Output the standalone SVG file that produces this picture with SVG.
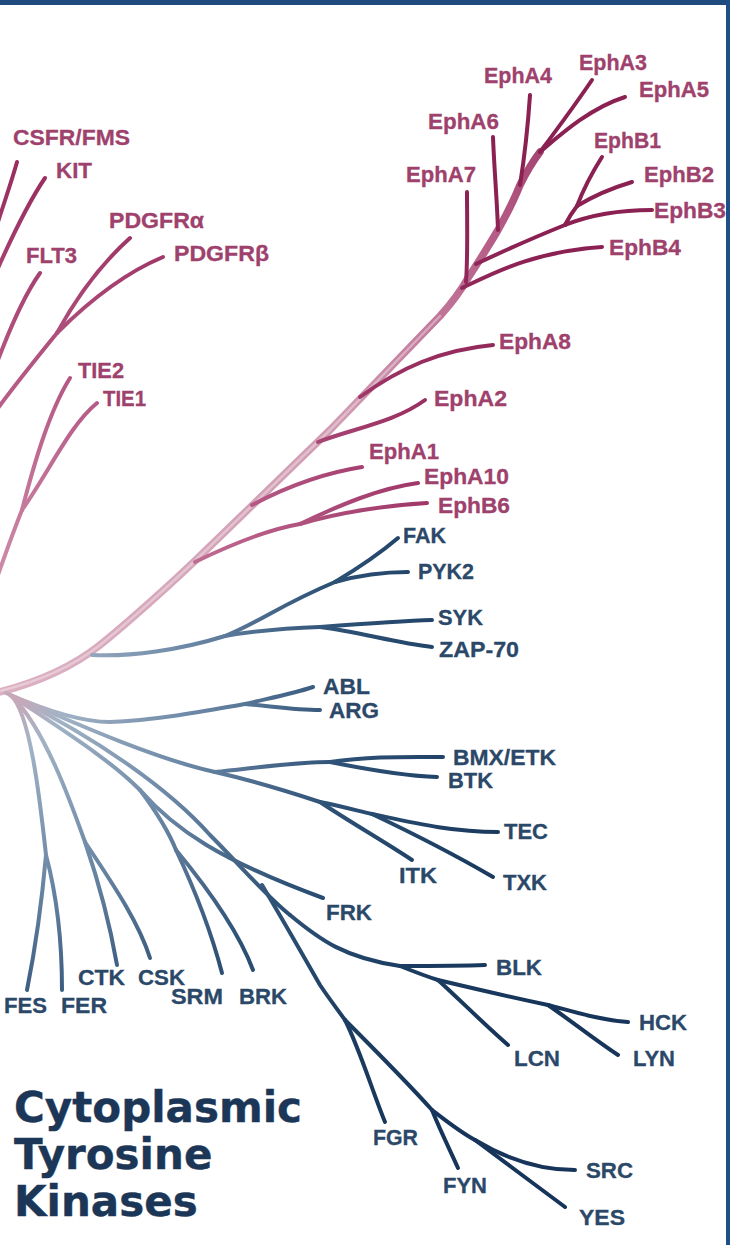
<svg xmlns="http://www.w3.org/2000/svg" width="730" height="1245" viewBox="0 0 730 1245">
<defs>
<linearGradient id="gTrunk" gradientUnits="userSpaceOnUse" x1="0" y1="690" x2="600" y2="60">
<stop offset="0" stop-color="#dcb0c2"/><stop offset="0.5" stop-color="#d09bb2"/><stop offset="0.78" stop-color="#b45a85"/><stop offset="1" stop-color="#93295b"/>
</linearGradient>
<radialGradient id="gPink" gradientUnits="userSpaceOnUse" cx="0" cy="690" r="700">
<stop offset="0" stop-color="#dcaabe"/><stop offset="0.4" stop-color="#b9608a"/><stop offset="0.7" stop-color="#9c3264"/><stop offset="1" stop-color="#8a2152"/>
</radialGradient>
<radialGradient id="gBlue" gradientUnits="userSpaceOnUse" cx="15" cy="698" r="600">
<stop offset="0" stop-color="#c9a8b8"/><stop offset="0.08" stop-color="#a2b3c5"/><stop offset="0.3" stop-color="#6c88a6"/><stop offset="0.55" stop-color="#2e5176"/><stop offset="0.8" stop-color="#1b3c60"/><stop offset="1" stop-color="#17355a"/>
</radialGradient>
<style>
.pk{fill:none;stroke:url(#gPink);stroke-width:4;stroke-linecap:round;stroke-linejoin:round}
.bl{fill:none;stroke:url(#gBlue);stroke-width:4;stroke-linecap:round;stroke-linejoin:round}
.tr{fill:none;stroke:url(#gTrunk);stroke-width:7.5;stroke-linecap:round;stroke-linejoin:round}
.hl{fill:none;stroke:#ffffff;stroke-opacity:0.35;stroke-width:2.5;stroke-linecap:round;stroke-linejoin:round}
text{font-family:"Liberation Sans",Arial,sans-serif;font-weight:bold;font-size:22px}
.lp{fill:#9e416c;stroke:#9e416c;stroke-width:0.3}
.lb{fill:#2b4869;stroke:#2b4869;stroke-width:0.3}
.title{font-family:"DejaVu Sans",Verdana,sans-serif;font-size:42px;fill:#1b3656;stroke:#1b3656;stroke-width:0.4}
</style>
</defs>
<rect x="0" y="0" width="730" height="1245" fill="#ffffff"/>
<g id="connectors">
<path class="tr" d="M-4,693 C40,682 75,665 100,645 S170,585 200,556 L330,430 L440,316 Q458,296 468,278 Q485,252 498,230 Q512,205 520,185 Q530,165 540,152"/>
<path class="hl" d="M0,691 C40,681 75,665 100,645 S170,585 200,556 L330,430 L440,316"/>
<path class="pk" d="M540,152 C555,132 575,105 592,80"/>
<path class="pk" d="M540,152 C560,135 590,108 625,97"/>
<path class="pk" d="M520,185 C524,160 528,125 530,95"/>
<path class="pk" d="M498,230 C497,200 494,165 493,137"/>
<path class="pk" d="M466,282 C468,255 467,220 467,192"/>
<path class="pk" d="M462,288 C490,275 530,252 602,247"/>
<path class="pk" d="M476,264 C510,248 540,235 565,225"/>
<path class="pk" d="M565,225 C590,215 620,210 652,210"/>
<path class="pk" d="M565,225 Q570,215 577,206"/>
<path class="pk" d="M577,206 C595,195 612,188 632,182"/>
<path class="pk" d="M577,206 C585,185 595,168 602,157"/>
<path class="pk" d="M360,397 C400,368 440,350 493,345"/>
<path class="pk" d="M318,442 C355,428 395,422 425,400"/>
<path class="pk" d="M252,505 C290,485 330,472 362,467"/>
<path class="pk" d="M195,562 C230,545 265,530 300,524"/>
<path class="pk" d="M300,524 C340,505 380,488 418,483"/>
<path class="pk" d="M300,524 C340,512 390,505 427,503"/>
<path class="pk" d="M17,162 C12,180 5,200 -2,222"/>
<path class="pk" d="M45,178 C30,200 15,230 -2,268"/>
<path class="pk" d="M40,273 C28,290 15,315 -2,360"/>
<path class="pk" d="M130,238 C100,265 75,300 57,333"/>
<path class="pk" d="M163,257 C120,275 85,305 57,333"/>
<path class="pk" d="M57,333 C35,360 15,385 -2,408"/>
<path class="pk" d="M70,378 C50,410 35,460 22,510"/>
<path class="pk" d="M97,403 C70,425 50,470 22,510"/>
<path class="pk" d="M22,510 C12,535 5,555 -2,575"/>
<path class="bl" d="M92,655 C130,657 180,650 225,636"/>
<path class="bl" d="M225,636 C260,622 280,605 335,582"/>
<path class="bl" d="M335,582 C355,570 378,555 398,538"/>
<path class="bl" d="M335,582 C360,575 385,572 408,572"/>
<path class="bl" d="M225,636 C260,630 290,628 320,627"/>
<path class="bl" d="M320,627 C360,624 400,621 432,620"/>
<path class="bl" d="M320,627 C360,632 395,643 432,647"/>
<path class="bl" d="M6,693 C40,708 80,722 110,722 C160,720 210,710 245,704"/>
<path class="bl" d="M245,704 C270,698 292,694 313,687"/>
<path class="bl" d="M245,704 C270,706 295,710 320,710"/>
<path class="bl" d="M10,695 C30,710 40,800 46,855"/>
<path class="bl" d="M46,855 C42,900 35,950 27,990"/>
<path class="bl" d="M46,855 C58,900 62,950 62,990"/>
<path class="bl" d="M12,696 C45,730 70,800 85,842"/>
<path class="bl" d="M85,842 C98,880 110,925 117,965"/>
<path class="bl" d="M85,842 C110,880 138,920 150,958"/>
<path class="bl" d="M12,696 C70,735 110,760 140,790"/>
<path class="bl" d="M140,790 C155,810 168,830 176,850"/>
<path class="bl" d="M176,850 C195,890 212,935 222,973"/>
<path class="bl" d="M176,850 C205,885 238,930 253,970"/>
<path class="bl" d="M140,790 C175,830 220,860 323,898"/>
<path class="bl" d="M12,696 C100,740 170,790 210,835 C240,865 265,895 290,915"/>
<path class="bl" d="M290,915 C320,940 345,958 400,966"/>
<path class="bl" d="M400,966 C430,966 460,966 485,965"/>
<path class="bl" d="M400,966 C415,972 425,976 438,980"/>
<path class="bl" d="M438,980 C460,1000 485,1025 508,1045"/>
<path class="bl" d="M438,980 C480,990 515,998 548,1005"/>
<path class="bl" d="M548,1005 C575,1012 600,1020 628,1022"/>
<path class="bl" d="M548,1005 C570,1020 595,1040 618,1055"/>
<path class="bl" d="M262,885 C280,915 300,950 320,985 C330,1000 338,1010 345,1020"/>
<path class="bl" d="M345,1020 C360,1050 372,1090 385,1122"/>
<path class="bl" d="M345,1020 C375,1050 405,1080 432,1110"/>
<path class="bl" d="M432,1110 C440,1130 450,1150 458,1168"/>
<path class="bl" d="M432,1110 C445,1120 460,1132 475,1140"/>
<path class="bl" d="M475,1140 C505,1158 540,1170 575,1170"/>
<path class="bl" d="M475,1140 C505,1162 535,1185 565,1207"/>
<path class="bl" d="M10,695 C90,730 160,760 215,772"/>
<path class="bl" d="M215,772 C255,768 295,762 330,762"/>
<path class="bl" d="M330,762 C370,756 405,757 443,757"/>
<path class="bl" d="M330,762 C370,770 405,776 437,777"/>
<path class="bl" d="M215,772 C250,780 290,792 320,802"/>
<path class="bl" d="M320,802 C340,806 355,810 372,814"/>
<path class="bl" d="M372,814 C410,822 450,832 498,832"/>
<path class="bl" d="M372,814 C410,832 450,852 493,877"/>
<path class="bl" d="M320,802 C350,822 385,842 412,860"/>
</g>
<g id="n-CSFR"><text class="lp" x="13" y="145" textLength="117" lengthAdjust="spacingAndGlyphs">CSFR/FMS</text></g>
<g id="n-KIT"><text class="lp" x="56" y="178" textLength="36" lengthAdjust="spacingAndGlyphs">KIT</text></g>
<g id="n-PDGFRa"><text class="lp" x="109" y="228" textLength="95" lengthAdjust="spacingAndGlyphs">PDGFRα</text></g>
<g id="n-PDGFRb"><text class="lp" x="174" y="261" textLength="95" lengthAdjust="spacingAndGlyphs">PDGFRβ</text></g>
<g id="n-FLT3"><text class="lp" x="26" y="263" textLength="51" lengthAdjust="spacingAndGlyphs">FLT3</text></g>
<g id="n-TIE2"><text class="lp" x="78" y="378" textLength="46" lengthAdjust="spacingAndGlyphs">TIE2</text></g>
<g id="n-TIE1"><text class="lp" x="103" y="406" textLength="43" lengthAdjust="spacingAndGlyphs">TIE1</text></g>
<g id="n-EphA3"><text class="lp" x="579" y="70" textLength="68" lengthAdjust="spacingAndGlyphs">EphA3</text></g>
<g id="n-EphA4"><text class="lp" x="484" y="83" textLength="68" lengthAdjust="spacingAndGlyphs">EphA4</text></g>
<g id="n-EphA5"><text class="lp" x="639" y="97" textLength="70" lengthAdjust="spacingAndGlyphs">EphA5</text></g>
<g id="n-EphA6"><text class="lp" x="428" y="129" textLength="71" lengthAdjust="spacingAndGlyphs">EphA6</text></g>
<g id="n-EphA7"><text class="lp" x="406" y="182" textLength="70" lengthAdjust="spacingAndGlyphs">EphA7</text></g>
<g id="n-EphB1"><text class="lp" x="594" y="148" textLength="67" lengthAdjust="spacingAndGlyphs">EphB1</text></g>
<g id="n-EphB2"><text class="lp" x="644" y="182" textLength="70" lengthAdjust="spacingAndGlyphs">EphB2</text></g>
<g id="n-EphB3"><text class="lp" x="654" y="218" textLength="72" lengthAdjust="spacingAndGlyphs">EphB3</text></g>
<g id="n-EphB4"><text class="lp" x="609" y="255" textLength="72" lengthAdjust="spacingAndGlyphs">EphB4</text></g>
<g id="n-EphA8"><text class="lp" x="499" y="349" textLength="72" lengthAdjust="spacingAndGlyphs">EphA8</text></g>
<g id="n-EphA2"><text class="lp" x="434" y="406" textLength="73" lengthAdjust="spacingAndGlyphs">EphA2</text></g>
<g id="n-EphA1"><text class="lp" x="369" y="459" textLength="70" lengthAdjust="spacingAndGlyphs">EphA1</text></g>
<g id="n-EphA10"><text class="lp" x="424" y="484" textLength="85" lengthAdjust="spacingAndGlyphs">EphA10</text></g>
<g id="n-EphB6"><text class="lp" x="438" y="513" textLength="72" lengthAdjust="spacingAndGlyphs">EphB6</text></g>
<g id="n-FAK"><text class="lb" x="403" y="543" textLength="43" lengthAdjust="spacingAndGlyphs">FAK</text></g>
<g id="n-PYK2"><text class="lb" x="418" y="579" textLength="56" lengthAdjust="spacingAndGlyphs">PYK2</text></g>
<g id="n-SYK"><text class="lb" x="438" y="625" textLength="45" lengthAdjust="spacingAndGlyphs">SYK</text></g>
<g id="n-ZAP70"><text class="lb" x="439" y="657" textLength="80" lengthAdjust="spacingAndGlyphs">ZAP-70</text></g>
<g id="n-ABL"><text class="lb" x="323" y="694" textLength="47" lengthAdjust="spacingAndGlyphs">ABL</text></g>
<g id="n-ARG"><text class="lb" x="329" y="718" textLength="50" lengthAdjust="spacingAndGlyphs">ARG</text></g>
<g id="n-BMX"><text class="lb" x="453" y="765" textLength="103" lengthAdjust="spacingAndGlyphs">BMX/ETK</text></g>
<g id="n-BTK"><text class="lb" x="448" y="788" textLength="45" lengthAdjust="spacingAndGlyphs">BTK</text></g>
<g id="n-TEC"><text class="lb" x="504" y="839" textLength="44" lengthAdjust="spacingAndGlyphs">TEC</text></g>
<g id="n-ITK"><text class="lb" x="399" y="883" textLength="38" lengthAdjust="spacingAndGlyphs">ITK</text></g>
<g id="n-TXK"><text class="lb" x="503" y="890" textLength="44" lengthAdjust="spacingAndGlyphs">TXK</text></g>
<g id="n-FRK"><text class="lb" x="326" y="920" textLength="46" lengthAdjust="spacingAndGlyphs">FRK</text></g>
<g id="n-BLK"><text class="lb" x="496" y="975" textLength="46" lengthAdjust="spacingAndGlyphs">BLK</text></g>
<g id="n-HCK"><text class="lb" x="639" y="1030" textLength="48" lengthAdjust="spacingAndGlyphs">HCK</text></g>
<g id="n-LCN"><text class="lb" x="514" y="1066" textLength="46" lengthAdjust="spacingAndGlyphs">LCN</text></g>
<g id="n-LYN"><text class="lb" x="633" y="1066" textLength="42" lengthAdjust="spacingAndGlyphs">LYN</text></g>
<g id="n-FGR"><text class="lb" x="373" y="1145" textLength="45" lengthAdjust="spacingAndGlyphs">FGR</text></g>
<g id="n-FYN"><text class="lb" x="443" y="1193" textLength="44" lengthAdjust="spacingAndGlyphs">FYN</text></g>
<g id="n-SRC"><text class="lb" x="586" y="1178" textLength="47" lengthAdjust="spacingAndGlyphs">SRC</text></g>
<g id="n-YES"><text class="lb" x="579" y="1225" textLength="46" lengthAdjust="spacingAndGlyphs">YES</text></g>
<g id="n-FES"><text class="lb" x="4" y="1013" textLength="43" lengthAdjust="spacingAndGlyphs">FES</text></g>
<g id="n-FER"><text class="lb" x="61" y="1013" textLength="46" lengthAdjust="spacingAndGlyphs">FER</text></g>
<g id="n-CTK"><text class="lb" x="78" y="985" textLength="47" lengthAdjust="spacingAndGlyphs">CTK</text></g>
<g id="n-CSK"><text class="lb" x="138" y="985" textLength="47" lengthAdjust="spacingAndGlyphs">CSK</text></g>
<g id="n-SRM"><text class="lb" x="171" y="1004" textLength="52" lengthAdjust="spacingAndGlyphs">SRM</text></g>
<g id="n-BRK"><text class="lb" x="239" y="1004" textLength="48" lengthAdjust="spacingAndGlyphs">BRK</text></g>
<g id="title">
<text class="title" x="14" y="1122">Cytoplasmic</text>
<text class="title" x="14" y="1169">Tyrosine</text>
<text class="title" x="14" y="1216">Kinases</text>
</g>
<rect x="0" y="0" width="730" height="5" fill="#1e4a7d"/>
<rect x="726" y="0" width="4" height="1245" fill="#1e4f86"/>
</svg>
